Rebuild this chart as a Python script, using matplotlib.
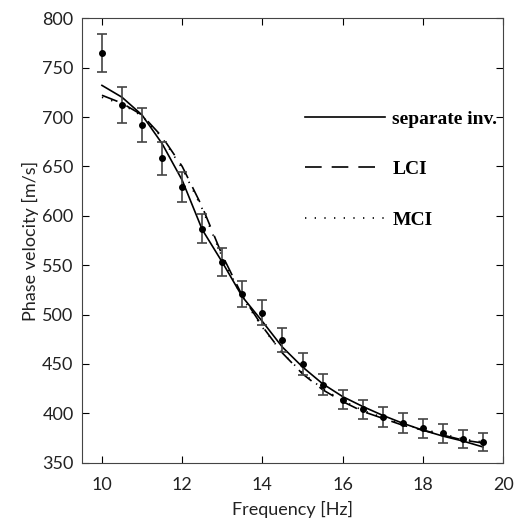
import numpy as np
import matplotlib.pyplot as plt

# measured phase velocities with error bars
freq = [10, 10.5, 11, 11.5, 12, 12.5, 13, 13.5, 14, 14.5,
        15, 15.5, 16, 16.5, 17, 17.5, 18, 18.5, 19, 19.5]
vel = [765, 712, 692, 658, 629, 587, 553, 521, 502, 474,
       450, 429, 414, 404, 396, 390, 385, 380, 374, 371]
err = [19, 18, 17, 17, 15, 15, 14, 13, 13, 12,
       11, 10.5, 10, 10, 10, 10, 9.5, 9.5, 9, 9]

# inverted dispersion curves
sep_inv = [732, 720, 702, 673, 636, 586, 553, 518, 493, 467,
           447, 430, 417, 407, 398, 390, 383, 377, 372, 366]
lci = [722, 714, 702, 680, 650, 609, 560, 519, 488, 461,
       440, 424, 412, 402, 395, 388, 383, 378, 373, 370]
mci = [720, 713, 701, 679, 648, 607, 558, 517, 487, 461,
       441, 425, 413, 403, 396, 389, 384, 379, 374, 371]

plt.rcParams['font.family'] = ['Lato', 'DejaVu Sans']

fig = plt.figure(figsize=(5.15, 5.2), dpi=100)
ax = fig.add_axes([0.159, 0.11, 0.818, 0.855])

ax.plot(freq, sep_inv, color='black', lw=1.2, label='separate inv.')
ax.plot(freq, lci, color='black', lw=1.2, dashes=(10, 6), label='LCI')
ax.plot(freq, mci, color='black', lw=1.2, dashes=(0.8, 5), label='MCI')
ax.errorbar(freq, vel, yerr=err, fmt='o', color='black', ms=4,
            ecolor='#444444', elinewidth=1.2, capsize=3.5, capthick=1.2)

ax.set_xlim(9.5, 20)
ax.set_ylim(350, 800)
ax.set_xticks(np.arange(10, 21, 2))
ax.set_yticks(np.arange(350, 801, 50))
ax.tick_params(direction='in', top=True, right=True, length=5, labelsize=13,
               labelcolor='#222222')
ax.tick_params(axis='x', pad=10)
ax.tick_params(axis='y', pad=6)
for sp in ax.spines.values():
    sp.set_color('#444444')
ax.set_xlabel('Frequency [Hz]', fontsize=13, color='#222222', labelpad=6)
ax.set_ylabel('Phase velocity [m/s]', fontsize=13, color='#222222', labelpad=2)

ax.legend(loc='upper left', bbox_to_anchor=(0.488, 0.833), frameon=False,
          prop={'family': 'Liberation Serif', 'weight': 'bold', 'size': 14},
          handlelength=4.1, handletextpad=0.4, labelspacing=1.7)

fig.savefig('out.png', dpi=100)
